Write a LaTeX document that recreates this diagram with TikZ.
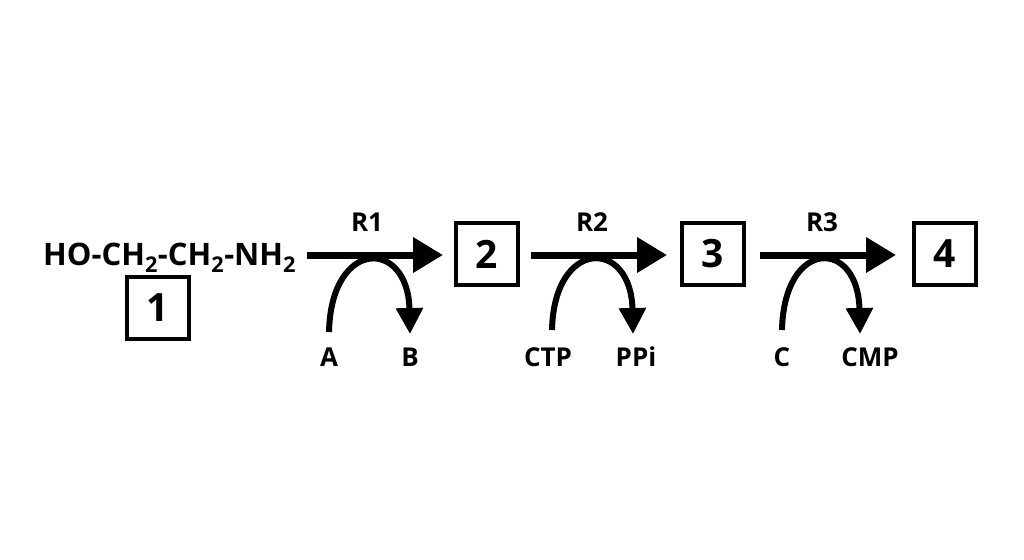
\documentclass[tikz,border=0pt]{standalone}
\usepackage{fontspec}
\setmainfont{Open Sans}
\usetikzlibrary{arrows.meta}
\begin{document}
\begin{tikzpicture}[x=1pt,y=-1pt,
  box/.style={draw, line width=4.5pt, minimum width=62pt, minimum height=62pt, inner sep=0pt, font=\fontsize{39}{40}\selectfont\bfseries},
  lbl/.style={font=\fontsize{26}{27}\selectfont\bfseries, inner sep=0pt, anchor=base},
  main/.style={line width=7pt, -{Triangle[length=30pt,width=34pt]}},
  side/.style={line width=6pt, -{Triangle[length=26pt,width=26pt]}}]
\useasboundingbox (0,0) rectangle (1024,559);
\fill[white] (0,0) rectangle (1024,559);
\node[inner sep=0pt, anchor=base west, font=\fontsize{31}{32}\selectfont\bfseries] (m1) at (43,265) {HO-CH\textsubscript{2}-CH\textsubscript{2}-NH\textsubscript{2}};
\node[box] (b1) at (158,308) {1};
\node[box] (b2) at (487,254) {2};
\node[box] (b3) at (713,254) {3};
\node[box] (b4) at (945,254) {4};
\coordinate (s1) at (307,255); \coordinate (t1) at (443,255);
\coordinate (s2) at (531,255); \coordinate (t2) at (667,255);
\coordinate (s3) at (760,255); \coordinate (t3) at (896,255);
\draw[main] (s1) -- (t1);
\draw[main] (s2) -- (t2);
\draw[main] (s3) -- (t3);
\node[lbl] (r1) at (367,231) {R1};
\node[lbl] (r2) at (592,231) {R2};
\node[lbl] (r3) at (822,231) {R3};
\node[lbl] (A) at (329,366) {A};
\node[lbl] (B) at (410,366) {B};
\node[lbl] (CTP) at (548,366) {CTP};
\node[lbl] (PPi) at (636,366) {PPi};
\node[lbl] (C) at (782,366) {C};
\node[lbl] (CMP) at (870,366) {CMP};
\coordinate (a1) at (329,332); \coordinate (e1) at (410,334);
\coordinate (a2) at (552,330); \coordinate (e2) at (633,334);
\coordinate (a3) at (782,330); \coordinate (e3) at (860,334);
\draw[side] (a1) .. controls (331,238) and (408,238) .. (e1);
\draw[side] (a2) .. controls (554,238) and (631,238) .. (e2);
\draw[side] (a3) .. controls (784,238) and (858,238) .. (e3);
\end{tikzpicture}
\end{document}
